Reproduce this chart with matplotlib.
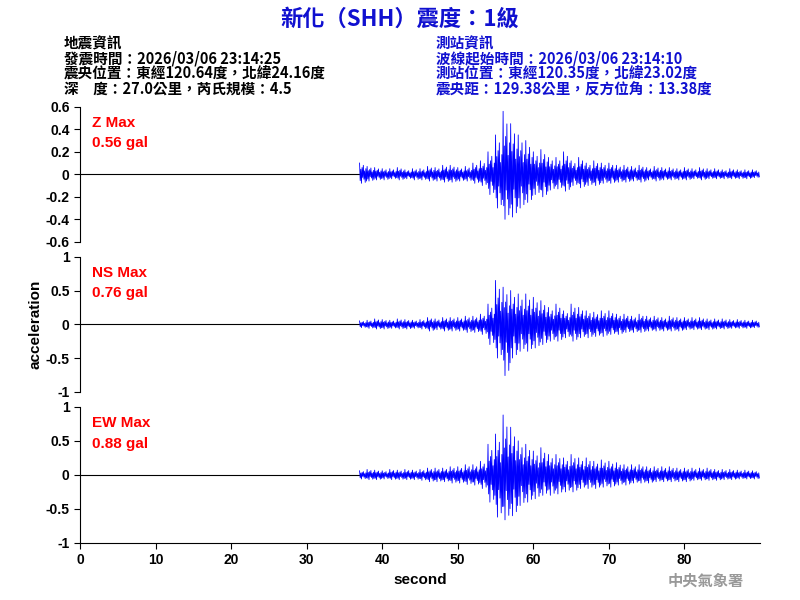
import numpy as np
import matplotlib.pyplot as plt

plt.rcParams['font.family'] = ['Noto Sans CJK TC', 'DejaVu Sans']

# 每秒包絡 (37..89 s) — 由圖估讀
t_sec = list(range(37, 90))
z_up = [0.1,0.07,0.06,0.05,0.05,0.06,0.04,0.05,0.05,0.07,0.06,0.08,0.08,0.06,0.07,0.1,0.12,0.2,0.35,0.56,0.45,0.35,0.3,0.2,0.22,0.15,0.15,0.2,0.12,0.15,0.1,0.12,0.1,0.1,0.08,0.08,0.07,0.08,0.06,0.07,0.06,0.06,0.05,0.06,0.05,0.06,0.05,0.05,0.04,0.05,0.04,0.04,0.04]
z_lo = [-0.08,-0.06,-0.05,-0.05,-0.04,-0.05,-0.04,-0.05,-0.05,-0.06,-0.06,-0.07,-0.07,-0.06,-0.06,-0.08,-0.1,-0.18,-0.3,-0.4,-0.38,-0.3,-0.25,-0.18,-0.2,-0.14,-0.13,-0.15,-0.1,-0.12,-0.1,-0.1,-0.08,-0.08,-0.07,-0.07,-0.06,-0.07,-0.05,-0.06,-0.05,-0.05,-0.05,-0.05,-0.04,-0.05,-0.04,-0.04,-0.04,-0.04,-0.04,-0.04,-0.03]
ns_up = [0.05,0.06,0.08,0.07,0.06,0.08,0.07,0.06,0.07,0.1,0.08,0.1,0.1,0.1,0.12,0.12,0.15,0.3,0.65,0.55,0.5,0.45,0.45,0.4,0.35,0.25,0.3,0.2,0.3,0.25,0.2,0.18,0.2,0.2,0.15,0.15,0.12,0.15,0.12,0.12,0.1,0.12,0.1,0.1,0.1,0.1,0.08,0.08,0.08,0.07,0.07,0.06,0.06]
ns_lo = [-0.05,-0.06,-0.07,-0.07,-0.06,-0.07,-0.07,-0.06,-0.07,-0.1,-0.08,-0.1,-0.1,-0.1,-0.12,-0.12,-0.15,-0.3,-0.5,-0.76,-0.5,-0.4,-0.4,-0.35,-0.3,-0.25,-0.25,-0.2,-0.25,-0.2,-0.2,-0.18,-0.18,-0.15,-0.15,-0.12,-0.12,-0.12,-0.1,-0.1,-0.1,-0.1,-0.1,-0.08,-0.08,-0.08,-0.08,-0.07,-0.07,-0.06,-0.06,-0.06,-0.05]
ew_up = [0.06,0.08,0.07,0.06,0.08,0.07,0.08,0.07,0.08,0.1,0.1,0.1,0.12,0.12,0.15,0.15,0.2,0.45,0.6,0.88,0.7,0.5,0.45,0.35,0.4,0.3,0.3,0.25,0.3,0.25,0.25,0.2,0.22,0.2,0.18,0.15,0.15,0.15,0.12,0.12,0.12,0.12,0.1,0.1,0.1,0.1,0.1,0.08,0.08,0.08,0.07,0.07,0.06]
ew_lo = [-0.06,-0.07,-0.07,-0.06,-0.07,-0.07,-0.07,-0.07,-0.08,-0.1,-0.1,-0.1,-0.12,-0.12,-0.14,-0.15,-0.2,-0.4,-0.62,-0.66,-0.6,-0.45,-0.4,-0.35,-0.3,-0.3,-0.28,-0.25,-0.25,-0.2,-0.2,-0.2,-0.18,-0.18,-0.15,-0.15,-0.12,-0.12,-0.12,-0.1,-0.1,-0.1,-0.1,-0.1,-0.08,-0.08,-0.08,-0.08,-0.07,-0.07,-0.06,-0.06,-0.06]

# 每秒內擺動比例 (上, 下 交替)
swing = [1.0, 0.7, 0.45, 1.0, 0.6, 0.35, 0.8, 0.55, 0.3, 0.9, 0.5, 0.75]

channels = [('Z Max', '0.56 gal', z_up, z_lo, 0.6, [0.6,0.4,0.2,0,-0.2,-0.4,-0.6]),
            ('NS Max', '0.76 gal', ns_up, ns_lo, 1, [1,0.5,0,-0.5,-1]),
            ('EW Max', '0.88 gal', ew_up, ew_lo, 1, [1,0.5,0,-0.5,-1])]

lat = ['Liberation Sans', 'DejaVu Sans']
fig = plt.figure(figsize=(8, 6), dpi=100)
boxes = [(0.1, 0.597, 0.85, 0.225), (0.1, 0.347, 0.85, 0.225), (0.1, 0.095, 0.85, 0.227)]

for i, (name, val, up, lo, lim, ticks) in enumerate(channels):
    ax = fig.add_axes(boxes[i])
    ax.plot([0, 37], [0, 0], color='black', lw=0.8)
    xs, ys = [], []
    n = len(swing)
    for k, t in enumerate(t_sec):
        for j, s in enumerate(swing):
            xs.append(t + j / n)
            ys.append((up[k] if j % 2 == 0 else lo[k]) * s)
    ax.plot(xs, ys, color='blue', lw=0.6)
    ax.set_xlim(0, 90)
    ax.set_ylim(-lim, lim)
    ax.set_yticks(ticks)
    ax.set_yticklabels([f'{v:g}' for v in ticks], fontfamily=lat, fontweight='bold')
    ax.spines['top'].set_visible(False)
    ax.spines['right'].set_visible(False)
    ax.tick_params(labelsize=10, direction='out', length=4)
    ax.text(0.017, 0.93, name, transform=ax.transAxes, color='red', fontsize=11, fontfamily=lat, fontweight='bold', va='top')
    ax.text(0.017, 0.78, val, transform=ax.transAxes, color='red', fontsize=11, fontfamily=lat, fontweight='bold', va='top')
    if i < 2:
        ax.spines['bottom'].set_visible(False)
        ax.set_xticks([])
    else:
        ax.set_xticks(range(0, 90, 10))
        ax.set_xticklabels([str(v) for v in range(0, 90, 10)], fontfamily=lat, fontweight='bold')
        ax.set_xlabel('second', fontsize=11, fontfamily=lat, fontweight='bold')

fig.text(0.035, 0.46, 'acceleration', rotation=90, fontsize=11, fontfamily=lat, fontweight='bold', va='center')

fig.text(0.5, 0.968, '新化（SHH）震度：1級', color='#1010d0', fontsize=16, fontweight='bold', ha='center', va='center')
left = ['地震資訊', '發震時間：2026/03/06 23:14:25', '震央位置：東經120.64度，北緯24.16度', '深　度：27.0公里，芮氏規模：4.5']
right = ['測站資訊', '波線起始時間：2026/03/06 23:14:10', '測站位置：東經120.35度，北緯23.02度', '震央距：129.38公里，反方位角：13.38度']
for k in range(4):
    y = 0.928 - k * 0.0255
    fig.text(0.08, y, left[k], color='black', fontsize=10.5, fontweight='bold', va='center')
    fig.text(0.545, y, right[k], color='#1010d0', fontsize=10.5, fontweight='bold', va='center')
fig.text(0.93, 0.032, '中央氣象署', color='#999999', fontsize=11, fontweight='bold', ha='right', va='center')

fig.savefig('out.png', dpi=100)
